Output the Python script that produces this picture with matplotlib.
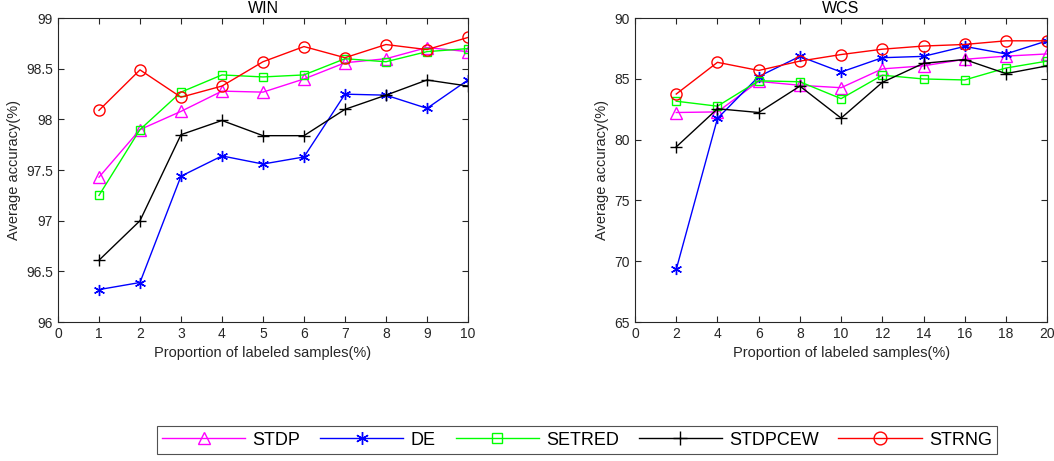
import matplotlib.pyplot as plt
import numpy as np

plt.rcParams['font.family'] = ['Liberation Sans', 'DejaVu Sans']

# WIN data set
win_x = [1, 2, 3, 4, 5, 6, 7, 8, 9, 10]
win_stdp = [97.43, 97.90, 98.08, 98.28, 98.27, 98.40, 98.56, 98.60, 98.71, 98.67]
win_de = [96.32, 96.39, 97.44, 97.64, 97.56, 97.63, 98.25, 98.24, 98.11, 98.39]
win_setred = [97.25, 97.90, 98.27, 98.44, 98.42, 98.44, 98.60, 98.57, 98.67, 98.70]
win_stdpcew = [96.61, 97.00, 97.85, 97.99, 97.84, 97.84, 98.10, 98.24, 98.39, 98.33]
win_strng = [98.09, 98.49, 98.22, 98.33, 98.57, 98.72, 98.61, 98.74, 98.69, 98.81]

# WCS data set
wcs_x = [2, 4, 6, 8, 10, 12, 14, 16, 18, 20]
wcs_stdp = [82.24, 82.29, 84.80, 84.48, 84.28, 85.83, 86.08, 86.62, 86.88, 87.06]
wcs_de = [69.33, 81.75, 85.20, 86.86, 85.57, 86.75, 86.86, 87.68, 87.06, 88.14]
wcs_setred = [83.17, 82.76, 84.85, 84.77, 83.38, 85.31, 85.00, 84.92, 85.90, 86.47]
wcs_stdpcew = [79.41, 82.55, 82.24, 84.41, 81.78, 84.72, 86.29, 86.60, 85.44, 86.08]
wcs_strng = [83.76, 86.37, 85.70, 86.47, 87.01, 87.45, 87.71, 87.84, 88.14, 88.14]

names = ['STDP', 'DE', 'SETRED', 'STDPCEW', 'STRNG']
colors = ['#ff00ff', '#0000ff', '#00ff00', '#000000', '#ff0000']
markers = ['^', (6, 2, 0), 's', '+', 'o']  # (6, 2, 0) = matlab-like asterisk
msizes = [8, 8, 6, 9, 8]


def draw(ax, x, series, title, xlim, xticks, ylim, yticks, yticklabels):
    for ys, name, c, m, ms in zip(series, names, colors, markers, msizes):
        ax.plot(x, ys, color=c, marker=m, markersize=ms, markerfacecolor='none',
                markeredgecolor=c, markeredgewidth=1.0, linewidth=1.0, label=name)
    ax.set_xlim(*xlim)
    ax.set_ylim(*ylim)
    ax.set_xticks(xticks)
    ax.set_yticks(yticks, yticklabels)
    ax.tick_params(direction='in', top=True, right=True, labelsize=10,
                   colors='#262626', length=4)
    for s in ax.spines.values():
        s.set_color('#262626')
        s.set_linewidth(0.8)
    ax.set_title(title, fontsize=11.5, pad=4)
    ax.set_xlabel('Proportion of labeled samples(%)', fontsize=10.5, color='#262626')
    ax.set_ylabel('Average accuracy(%)', fontsize=10.5, color='#262626')


fig = plt.figure(figsize=(10.54, 4.61), dpi=100)
ax1 = fig.add_axes([0.055, 0.3015, 0.389, 0.659])
ax2 = fig.add_axes([0.6025, 0.3015, 0.391, 0.659])

draw(ax1, win_x, [win_stdp, win_de, win_setred, win_stdpcew, win_strng], 'WIN',
     (0, 10), range(0, 11), (96, 99), [96, 96.5, 97, 97.5, 98, 98.5, 99],
     ['96', '96.5', '97', '97.5', '98', '98.5', '99'])
draw(ax2, wcs_x, [wcs_stdp, wcs_de, wcs_setred, wcs_stdpcew, wcs_strng], 'WCS',
     (0, 20), range(0, 21, 2), (65, 90), [65, 70, 75, 80, 85, 90],
     ['65', '70', '75', '80', '85', '90'])

handles, labels = ax1.get_legend_handles_labels()
leg = fig.legend(handles, labels, loc='center', bbox_to_anchor=(0.5475, 0.045), ncol=5,
                 fontsize=13, handlelength=4.6, handletextpad=0.4, columnspacing=1.1,
                 frameon=True, fancybox=False, edgecolor='#262626', borderpad=0.3,
                 markerscale=1.15)
leg.get_frame().set_linewidth(0.8)

fig.savefig('out.png', dpi=100)
